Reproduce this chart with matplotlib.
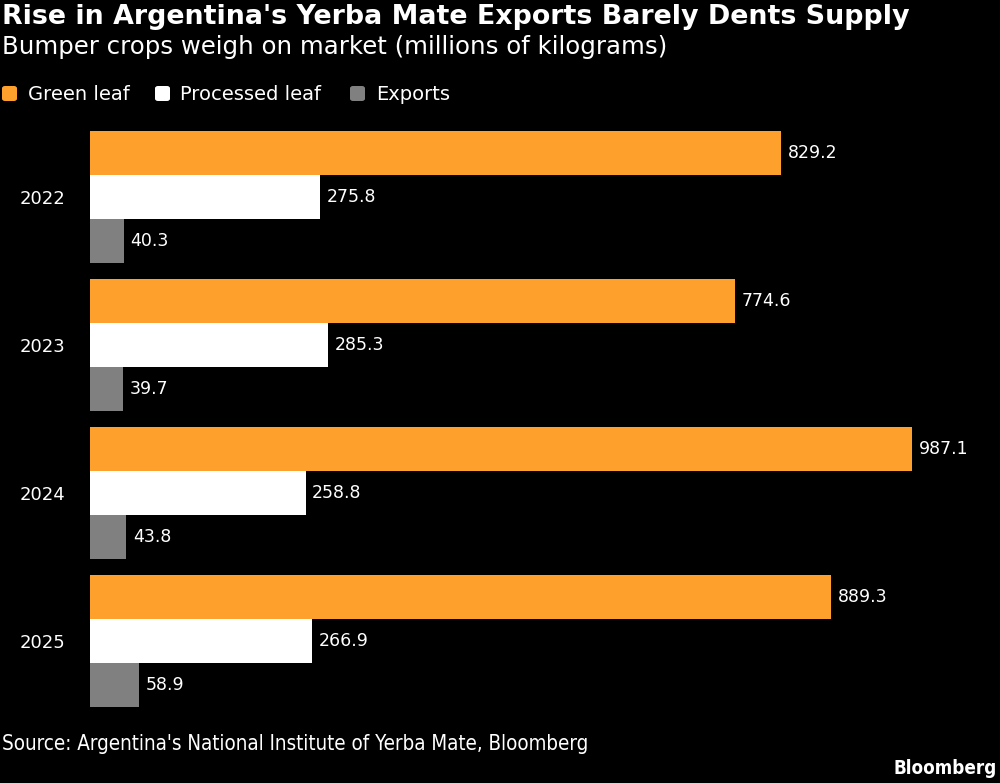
import matplotlib.pyplot as plt
from matplotlib.patches import FancyBboxPatch
import numpy as np

# data
years = ["2022", "2023", "2024", "2025"]
green_leaf = [829.2, 774.6, 987.1, 889.3]
processed_leaf = [275.8, 285.3, 258.8, 266.9]
exports = [40.3, 39.7, 43.8, 58.9]

series_names = ["Green leaf", "Processed leaf", "Exports"]
colors = ["#fda12c", "#ffffff", "#808080"]

BG = "#000000"
FONT = "DejaVu Sans"

fig = plt.figure(figsize=(10, 7.83), dpi=100, facecolor=BG)

# axes placed in pixel terms (bars start at x=90px)
ax = fig.add_axes([0.09, 1 - 707 / 783, 0.833, 576 / 783])
ax.set_facecolor(BG)

bar_h = 44 / 148
y = np.arange(len(years))
for k, (vals, col) in enumerate(zip([green_leaf, processed_leaf, exports], colors)):
    pos = y + (k - 1) * bar_h
    ax.barh(pos, vals, height=bar_h, color=col, edgecolor="none")
    for p, v in zip(pos, vals):
        ax.text(v + 8, p, f"{v:.1f}", color="white", fontsize=12.5,
                va="center", ha="left", family=FONT)

ax.set_xlim(0, 1000)
ax.set_ylim(len(years) - 1 + 1.5 * bar_h, -1.5 * bar_h)
ax.set_yticks(y)
ax.set_yticklabels(years, color="white", fontsize=13, family=FONT)
ax.tick_params(axis="y", length=0, pad=18)
ax.set_xticks([])
for s in ax.spines.values():
    s.set_visible(False)

# titles
fig.text(0.002, 1 - 4 / 783, "Rise in Argentina's Yerba Mate Exports Barely Dents Supply",
         color="white", fontsize=19.4, fontweight="bold", va="top", ha="left", family=FONT)
fig.text(0.002, 1 - 35 / 783, "Bumper crops weigh on market (millions of kilograms)",
         color="white", fontsize=17.6, va="top", ha="left", family=FONT)

# legend
leg_box = [2, 155, 350]
leg_txt = [28, 180, 376]
for bx, tx, name, col in zip(leg_box, leg_txt, series_names, colors):
    fig.patches.append(FancyBboxPatch((bx / 1000, 1 - 101 / 783), 0.015, 15 / 783,
                                      boxstyle="round,pad=0,rounding_size=0.003",
                                      transform=fig.transFigure, facecolor=col,
                                      edgecolor="none"))
    fig.text(tx / 1000, 1 - 94 / 783, name, color="white", fontsize=14,
             va="center", ha="left", family=FONT)

# footer
fig.text(0.002, 1 - 744 / 783, "Source: Argentina's National Institute of Yerba Mate, Bloomberg",
         color="white", fontsize=14.8, va="center", ha="left", family=FONT,
         fontstretch="condensed")
fig.text(0.997, 1 - 769 / 783, "Bloomberg", color="white", fontsize=13.5,
         fontweight="bold", va="center", ha="right", family=FONT,
         fontstretch="condensed")

fig.savefig("out.png", dpi=100, facecolor=BG)
